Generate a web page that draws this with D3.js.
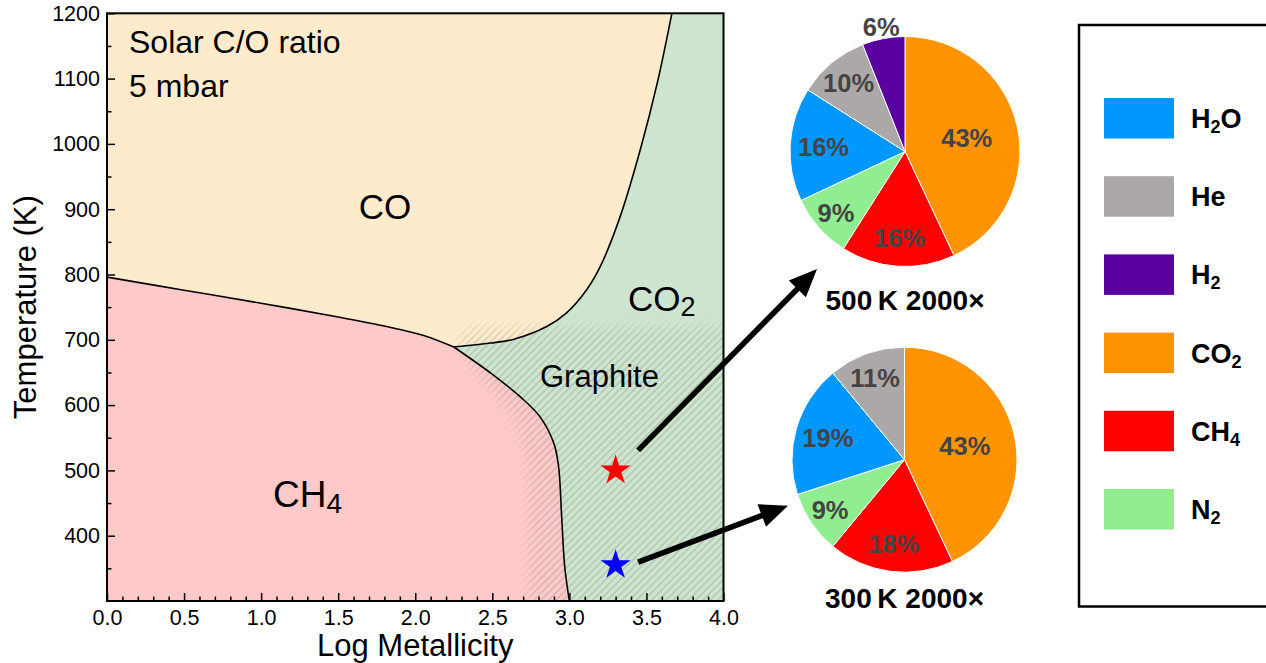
<!DOCTYPE html>
<html>
<head>
<meta charset="utf-8">
<script src="https://cdn.jsdelivr.net/npm/d3@7"></script>
<style>
  body { margin: 0; background: #fff; }
  svg { display: block; font-family: "Liberation Sans", Arial, sans-serif; }
</style>
</head>
<body>
<svg id="chart" width="1266" height="663"></svg>
<script>
// ---- data ----
const xTicks = [0, 0.5, 1, 1.5, 2, 2.5, 3, 3.5, 4];
const yTicks = [400, 500, 600, 700, 800, 900, 1000, 1100, 1200];

// phase boundaries, [log metallicity, temperature K]
const coCh4Boundary = [[0, 796], [0.5, 776], [1.0, 756], [1.5, 735], [1.8, 721], [2.05, 707], [2.25, 689]];
const coCo2Boundary = [[2.25, 689], [2.49, 695], [2.64, 701], [2.85, 720], [2.98, 741], [3.11, 776],
  [3.2, 812], [3.33, 889], [3.46, 991], [3.57, 1093], [3.665, 1200]];
const ch4Co2Boundary = [[2.25, 689], [2.49, 649], [2.68, 613], [2.81, 582], [2.9, 541], [2.93, 506],
  [2.95, 429], [2.97, 352], [3.0, 300]];
// left edge of the graphite (hatched) field, top at ~720 K
const graphiteTop = 720;
const graphiteEdge = [[2.33, 720], [2.27, 690], [2.45, 635], [2.63, 585], [2.73, 520], [2.74, 300]];

const stars = [
  { x: 3.3, t: 500, color: '#ff0000' },
  { x: 3.3, t: 355, color: '#0000ff' }
];

const species = ['CO2', 'CH4', 'N2', 'H2O', 'He', 'H2'];
const speciesColors = ['#ff9400', '#ff0000', '#90ee90', '#0097ff', '#aca8a8', '#5a00a0'];
const pie500 = [43, 16, 9, 16, 10, 6];
const pie300 = [43, 18, 9, 19, 11, 0];
const pieTitles = ['500\u2009K 2000\u00d7', '300\u2009K 2000\u00d7'];
const legendOrder = ['H2O', 'He', 'H2', 'CO2', 'CH4', 'N2'];

// ---- layout ----
const svg = d3.select('#chart');
const FONT = '"Liberation Sans", Arial, sans-serif';
const x = d3.scaleLinear().domain([0, 4]).range([107, 723.5]);
const y = d3.scaleLinear().domain([300, 1200]).range([601, 13.3]);

const pies = [
  { values: pie500, cx: 905, cy: 151.5, r: 115, title: pieTitles[0], titleY: 310 },
  { values: pie300, cx: 904.5, cy: 459.7, r: 112.5, title: pieTitles[1], titleY: 608 }
];
// label distance (fraction of radius) per slice
const pctDist = [0.55, 0.75, 0.8, 0.71, 0.77, 1.1];

const defs = svg.append('defs');
defs.append('clipPath').attr('id', 'plotClip')
  .append('rect')
  .attr('x', x(0)).attr('y', y(1200))
  .attr('width', x(4) - x(0)).attr('height', y(300) - y(1200));

// hatch pattern
const pat = defs.append('pattern')
  .attr('id', 'hatch')
  .attr('patternUnits', 'userSpaceOnUse')
  .attr('width', 5.2).attr('height', 10)
  .attr('patternTransform', 'rotate(45)');
pat.append('line')
  .attr('x1', 1).attr('y1', 0).attr('x2', 1).attr('y2', 10)
  .attr('stroke', '#7d857d').attr('stroke-width', 0.9).attr('stroke-opacity', 0.6);

const blur = defs.append('filter').attr('id', 'soft')
  .attr('filterUnits', 'userSpaceOnUse')
  .attr('x', 0).attr('y', 0).attr('width', 1266).attr('height', 663);
blur.append('feGaussianBlur').attr('stdDeviation', 7);

const line = d3.line()
  .x(d => x(d[0])).y(d => y(d[1]))
  .curve(d3.curveCatmullRom.alpha(0.5));
const asLine = d => d.replace(/^M/, 'L');
const rev = a => a.slice().reverse();

// graphite mask
const gPoly = [[graphiteEdge[0][0], graphiteTop], [4.3, graphiteTop], [4.3, 250]]
  .concat([[graphiteEdge[graphiteEdge.length - 1][0], 250]])
  .concat(rev(graphiteEdge));
defs.append('mask').attr('id', 'graphiteMask')
  .attr('maskUnits', 'userSpaceOnUse')
  .attr('x', 0).attr('y', 0).attr('width', 1266).attr('height', 663)
  .append('path')
  .attr('d', d3.line().x(d => x(d[0])).y(d => y(d[1]))(gPoly) + 'Z')
  .attr('fill', '#fff')
  .attr('filter', 'url(#soft)');

const plot = svg.append('g').attr('clip-path', 'url(#plotClip)');

// CO2 field (background)
plot.append('rect')
  .attr('x', x(0)).attr('y', y(1200))
  .attr('width', x(4) - x(0)).attr('height', y(300) - y(1200))
  .attr('fill', '#cde5cf');

// CO field
plot.append('path')
  .attr('d', `M${x(0)},${y(1200)}` + asLine(line(coCh4Boundary)) + asLine(line(coCo2Boundary)) + 'Z')
  .attr('fill', '#feebcc');

// CH4 field
plot.append('path')
  .attr('d', `M${x(0)},${y(300)}` + asLine(line(coCh4Boundary)) + asLine(line(ch4Co2Boundary)) + 'Z')
  .attr('fill', '#fec9c8');

// graphite hatch
plot.append('rect')
  .attr('x', 0).attr('y', 0).attr('width', 1266).attr('height', 663)
  .attr('fill', 'url(#hatch)')
  .attr('opacity', 0.9)
  .attr('mask', 'url(#graphiteMask)');

// boundaries
[coCh4Boundary, coCo2Boundary, ch4Co2Boundary].forEach(b => {
  plot.append('path')
    .attr('d', line(b))
    .attr('fill', 'none')
    .attr('stroke', '#000')
    .attr('stroke-width', 1.6);
});

// text helper with chemical subscripts
function chem(sel, name, subSize, subDy) {
  const parts = name.match(/[A-Za-z]+|\d+/g);
  let shifted = false;
  parts.forEach(p => {
    const isNum = /^\d+$/.test(p);
    const t = sel.append('tspan').text(p);
    if (isNum) {
      t.attr('font-size', subSize).attr('dy', subDy);
      shifted = true;
    } else if (shifted) {
      t.attr('dy', -subDy);
      shifted = false;
    }
  });
  return sel;
}

// field labels
const labels = svg.append('g').attr('font-family', FONT).attr('fill', '#000');
labels.append('text').attr('x', 129).attr('y', 53).attr('font-size', 32).text('Solar C/O ratio');
labels.append('text').attr('x', 129).attr('y', 97).attr('font-size', 32).text('5 mbar');
labels.append('text').attr('x', 385).attr('y', 219).attr('font-size', 35)
  .attr('text-anchor', 'middle').text('CO');
chem(labels.append('text').attr('x', 628).attr('y', 311).attr('font-size', 35), 'CO2', 27, 5);
labels.append('text').attr('x', 540).attr('y', 387).attr('font-size', 31).text('Graphite');
chem(labels.append('text').attr('x', 273).attr('y', 507).attr('font-size', 37), 'CH4', 28, 6);

// stars
svg.append('g').selectAll('path')
  .data(stars)
  .join('path')
  .attr('transform', d => `translate(${x(d.x)},${y(d.t)})`)
  .attr('d', d3.symbol(d3.symbolStar, 280))
  .attr('fill', d => d.color);

// axes
const axisG = svg.append('g').attr('font-family', FONT);
const xAxis = axisG.append('g')
  .attr('transform', `translate(0,${y(300)})`)
  .call(d3.axisBottom(x).tickValues(xTicks).tickFormat(d3.format('.1f'))
    .tickSizeInner(-8).tickSizeOuter(0).tickPadding(9));
xAxis.append('g')
  .call(d3.axisBottom(x).tickValues(d3.range(0, 41).map(i => i / 10).filter(v => Math.round(v * 10) % 5 !== 0))
    .tickFormat('').tickSizeInner(-4.5).tickSizeOuter(0))
  .select('.domain').remove();
const yAxis = axisG.append('g')
  .attr('transform', `translate(${x(0)},0)`)
  .call(d3.axisLeft(y).tickValues(yTicks).tickFormat(d3.format('d'))
    .tickSizeInner(-8).tickSizeOuter(0).tickPadding(7));
yAxis.append('g')
  .call(d3.axisLeft(y).tickValues(d3.range(350, 1200, 100)).tickFormat('').tickSizeInner(-4.5).tickSizeOuter(0))
  .select('.domain').remove();

axisG.selectAll('.tick line').attr('stroke', '#000').attr('stroke-width', 1.5);
axisG.selectAll('.domain').remove();
axisG.selectAll('.tick text')
  .attr('font-size', 21.5)
  .attr('fill', '#000');

svg.append('rect')
  .attr('x', x(0)).attr('y', y(1200))
  .attr('width', x(4) - x(0)).attr('height', y(300) - y(1200))
  .attr('fill', 'none').attr('stroke', '#000').attr('stroke-width', 2);

axisG.append('text')
  .attr('x', (x(0) + x(4)) / 2).attr('y', 656)
  .attr('text-anchor', 'middle').attr('font-size', 31)
  .text('Log Metallicity');
axisG.append('text')
  .attr('transform', `translate(36,${(y(300) + y(1200)) / 2}) rotate(-90)`)
  .attr('text-anchor', 'middle').attr('font-size', 31)
  .text('Temperature (K)');

// pies
const pieGen = d3.pie().sort(null).value(d => d.v);
const arc = d3.arc().innerRadius(0);

pies.forEach(p => {
  const data = p.values.map((v, i) => ({ v, name: species[i], color: speciesColors[i], i }));
  const arcs = pieGen(data).filter(a => a.data.v > 0);
  const g = svg.append('g').attr('transform', `translate(${p.cx},${p.cy})`);
  g.selectAll('path')
    .data(arcs)
    .join('path')
    .attr('d', a => arc.outerRadius(p.r)(a))
    .attr('fill', a => a.data.color)
    .attr('stroke', '#fff')
    .attr('stroke-width', 1);
  g.selectAll('text')
    .data(arcs)
    .join('text')
    .attr('transform', a => {
      const mid = (a.startAngle + a.endAngle) / 2;
      const rr = p.r * pctDist[a.data.i];
      return `translate(${rr * Math.sin(mid)},${-rr * Math.cos(mid)})`;
    })
    .attr('text-anchor', 'middle')
    .attr('dy', '0.36em')
    .attr('font-family', FONT)
    .attr('font-weight', 'bold')
    .attr('font-size', 25.5)
    .attr('fill', '#444')
    .text(a => `${a.data.v}%`);
  svg.append('text')
    .attr('x', p.cx).attr('y', p.titleY)
    .attr('text-anchor', 'middle')
    .attr('font-family', FONT).attr('font-weight', 'bold').attr('font-size', 28)
    .text(p.title);
});

// arrows from the stars to the pies
const arrowSpec = [
  { star: 0, pie: 0, from: [22.5, -20], to: [-88, 117.5] },
  { star: 1, pie: 1, from: [22.5, -3], to: [-116.5, 46] }
];
const arrows = svg.append('g');
arrowSpec.forEach(a => {
  const s = stars[a.star], p = pies[a.pie];
  const x0 = x(s.x) + a.from[0], y0 = y(s.t) + a.from[1];
  const x1 = p.cx + a.to[0], y1 = p.cy + a.to[1];
  const ang = Math.atan2(y1 - y0, x1 - x0);
  const headLen = 28, headW = 12;
  const bx = x1 - headLen * Math.cos(ang), by = y1 - headLen * Math.sin(ang);
  arrows.append('line')
    .attr('x1', x0).attr('y1', y0).attr('x2', bx + 2 * Math.cos(ang)).attr('y2', by + 2 * Math.sin(ang))
    .attr('stroke', '#000').attr('stroke-width', 5.5);
  const nx = -Math.sin(ang), ny = Math.cos(ang);
  arrows.append('path')
    .attr('d', `M${x1},${y1}L${bx + headW * nx},${by + headW * ny}L${bx - headW * nx},${by - headW * ny}Z`)
    .attr('fill', '#000');
});

// legend
const legend = svg.append('g').attr('font-family', FONT);
legend.append('rect')
  .attr('x', 1079).attr('y', 25).attr('width', 220).attr('height', 581.5)
  .attr('fill', 'none').attr('stroke', '#000').attr('stroke-width', 2.5);
legendOrder.forEach((name, i) => {
  const color = speciesColors[species.indexOf(name)];
  const yy = 98 + i * 78.2;
  legend.append('rect')
    .attr('x', 1104).attr('y', yy).attr('width', 70).attr('height', 40.5)
    .attr('fill', color);
  chem(legend.append('text')
    .attr('x', 1191).attr('y', yy + 30)
    .attr('font-weight', 'bold').attr('font-size', 27), name, 18, 5);
});
</script>
</body>
</html>
